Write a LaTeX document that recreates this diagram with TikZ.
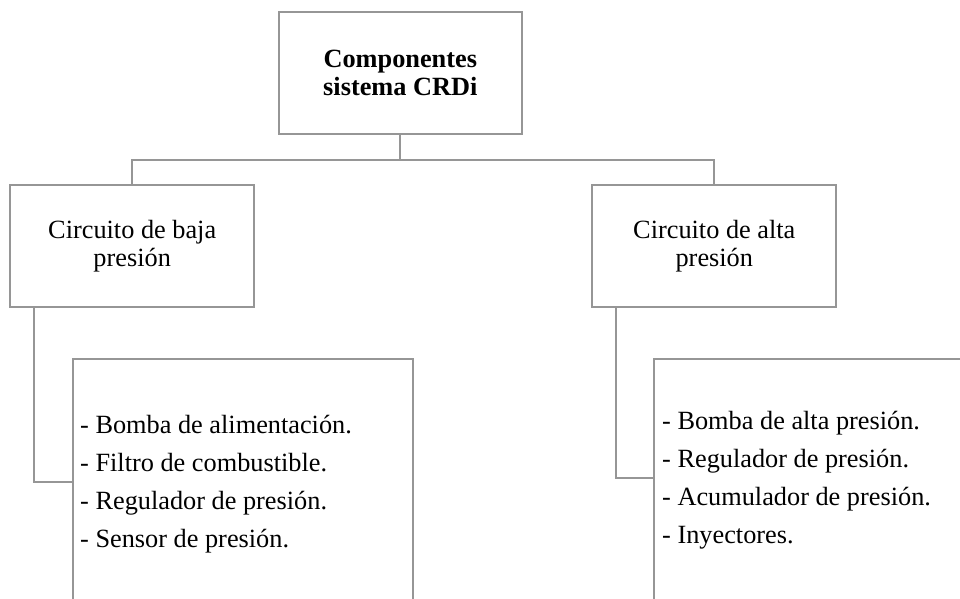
\documentclass[tikz,border=0pt]{standalone}
\usepackage{fontspec}
\setmainfont{Liberation Serif}
\definecolor{lc}{RGB}{150,150,150}
\begin{document}
\begin{tikzpicture}[x=1pt,y=1pt,
  box/.style={draw=lc, line width=2pt, inner sep=0pt, align=center,
    font=\fontsize{26.3}{28.4}\selectfont},
  listbox/.style={draw=lc, line width=2pt, inner sep=0pt, anchor=north west},
  item/.style={anchor=base west, inner sep=0pt, font=\fontsize{26.3}{30}\selectfont},
  conn/.style={draw=lc, line width=2pt}]
\useasboundingbox (0,0) rectangle (960,598);
% main boxes
\node[box, minimum width=243pt, minimum height=122pt,
  font=\fontsize{26.3}{28.4}\selectfont\bfseries] (top) at (400.3,525) {Componentes\\sistema CRDi};
\node[box, minimum width=244pt, minimum height=122pt] (baja) at (132.2,352) {Circuito de baja\\presión};
\node[box, minimum width=244pt, minimum height=122pt] (alta) at (714.3,352) {Circuito de alta\\presión};
% list boxes (bottom edge lies below the page)
\node[listbox, minimum width=339.2pt, minimum height=280pt] (lbaja) at (72.3,240.3) {};
\node[listbox, minimum width=330pt, minimum height=280pt] (lalta) at (653,240.3) {};
% list items
\node[item] (b1) at (80,165) {- Bomba de alimentación.};
\node[item] (b2) at (80,127) {- Filtro de combustible.};
\node[item] (b3) at (80,89) {- Regulador de presión.};
\node[item] (b4) at (80,51) {- Sensor de presión.};
\node[item] (a1) at (662,169) {- Bomba de alta presión.};
\node[item] (a2) at (662,131) {- Regulador de presión.};
\node[item] (a3) at (662,93) {- Acumulador de presión.};
\node[item] (a4) at (662,55) {- Inyectores.};
% connectors
\path (top.south) ++(0,-25.4) coordinate (bus);
\draw[conn] (top.south) -- (bus);
\draw[conn] (baja.north) |- (bus) -| (alta.north);
\coordinate (lj) at (72.3,116);
\coordinate (rj) at (653,120);
\draw[conn] ([xshift=24.6pt]baja.south west) |- (lj);
\draw[conn] ([xshift=24.6pt]alta.south west) |- (rj);
\end{tikzpicture}
\end{document}
